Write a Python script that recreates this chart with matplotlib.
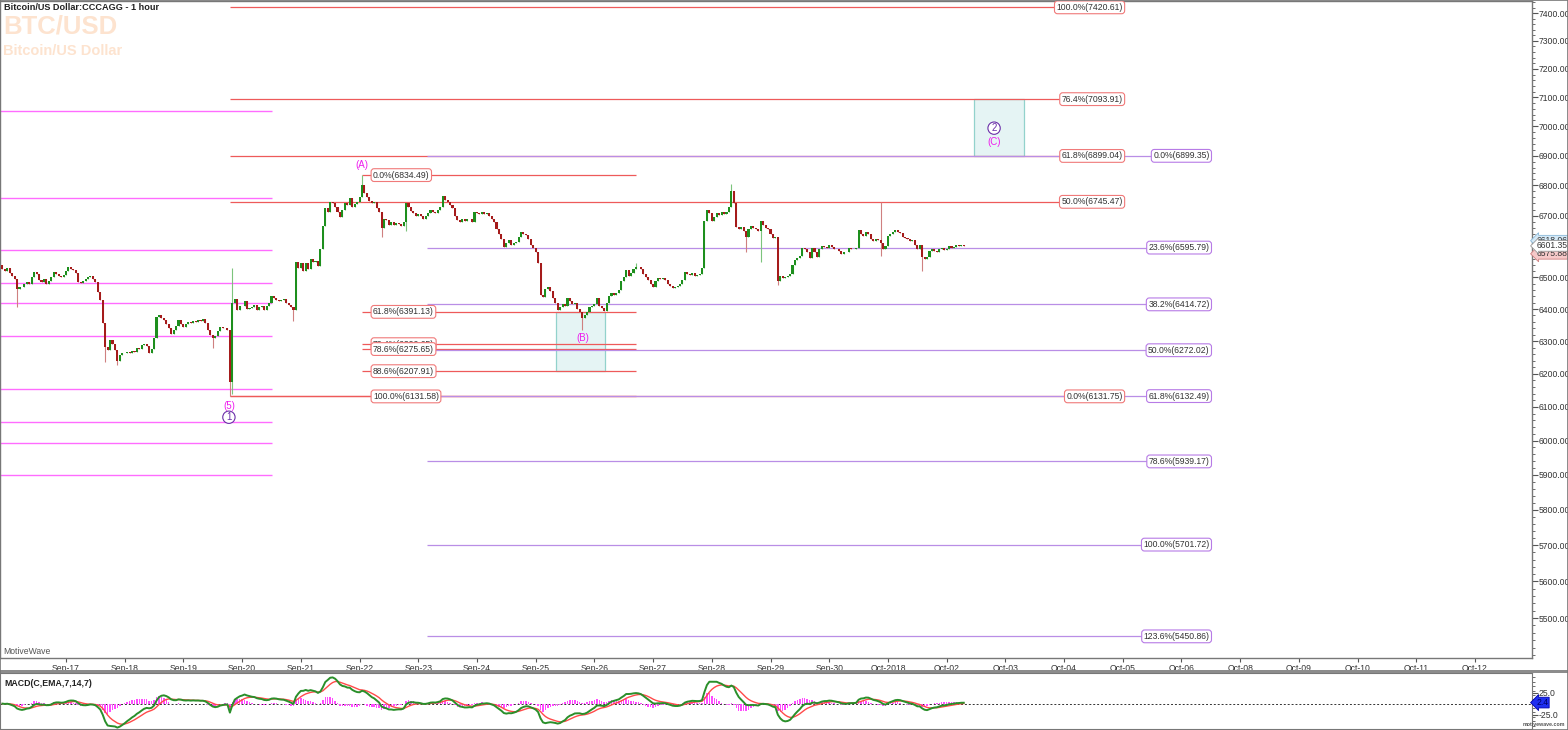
"""BTC/USD 1 hour chart with wave labels, fib levels and MACD (MotiveWave look)."""

import numpy as np
import matplotlib
matplotlib.use("Agg")
import matplotlib.pyplot as plt
from matplotlib.patches import Rectangle
from matplotlib.ticker import FixedLocator, NullFormatter, FuncFormatter

plt.rcParams["font.family"] = ["Liberation Sans", "DejaVu Sans"]

# hourly closes, first bar is Sep-15 22:00, one row per day
close_sep16 = [6528, 6522, 6530, 6515, 6505, 6495, 6462, 6470, 6468, 6480, 6486, 6478, 6500,
               6518, 6510, 6492, 6486, 6494, 6480, 6488, 6500, 6518, 6512, 6506, 6500, 6508]
close_sep17 = [6520, 6532, 6528, 6524, 6515, 6486, 6482, 6490, 6494, 6500, 6506, 6494,
               6485, 6454, 6430, 6355, 6283, 6274, 6304, 6290, 6274, 6240, 6258, 6262]
close_sep18 = [6262, 6268, 6264, 6270, 6266, 6280, 6276, 6288, 6292, 6284, 6262, 6275,
               6310, 6375, 6382, 6372, 6366, 6352, 6340, 6322, 6335, 6346, 6366, 6352]
close_sep19 = [6345, 6352, 6360, 6355, 6364, 6360, 6366, 6362, 6368, 6355, 6335, 6318,
               6310, 6316, 6330, 6345, 6340, 6342, 6336, 6175, 6420, 6432, 6398, 6410]
close_sep20 = [6410, 6426, 6400, 6404, 6406, 6412, 6398, 6405, 6410, 6398, 6408, 6420,
               6442, 6434, 6430, 6424, 6428, 6432, 6420, 6414, 6405, 6398, 6550, 6530]
close_sep21 = [6545, 6522, 6546, 6528, 6560, 6548, 6552, 6538, 6592, 6665, 6725, 6712,
               6745, 6740, 6728, 6712, 6695, 6718, 6740, 6735, 6758, 6728, 6738, 6745]
close_sep22 = [6760, 6800, 6775, 6762, 6748, 6740, 6745, 6725, 6712, 6660, 6690, 6685,
               6670, 6680, 6668, 6676, 6672, 6665, 6678, 6740, 6728, 6715, 6708, 6700]
close_sep23 = [6705, 6698, 6690, 6700, 6708, 6718, 6712, 6708, 6720, 6730, 6765, 6752,
               6745, 6735, 6725, 6700, 6685, 6680, 6690, 6682, 6688, 6690, 6680, 6712]
close_sep24 = [6710, 6705, 6712, 6706, 6710, 6700, 6688, 6680, 6655, 6640, 6625, 6598,
               6610, 6620, 6605, 6612, 6615, 6630, 6648, 6640, 6636, 6625, 6605, 6595]
close_sep25 = [6580, 6545, 6445, 6438, 6462, 6470, 6458, 6435, 6418, 6398, 6405, 6416,
               6410, 6436, 6425, 6415, 6420, 6400, 6392, 6372, 6380, 6390, 6405, 6410]
close_sep26 = [6415, 6436, 6410, 6402, 6395, 6420, 6440, 6452, 6445, 6452, 6460, 6488,
               6500, 6524, 6505, 6515, 6528, 6534, 6532, 6528, 6510, 6500, 6492, 6480]
close_sep27 = [6470, 6488, 6498, 6494, 6498, 6492, 6480, 6474, 6466, 6470, 6472, 6478,
               6492, 6518, 6510, 6508, 6514, 6506, 6508, 6512, 6530, 6682, 6720, 6710]
close_sep28 = [6682, 6695, 6710, 6702, 6712, 6705, 6712, 6730, 6780, 6740, 6662, 6655,
               6662, 6650, 6630, 6655, 6665, 6660, 6655, 6650, 6682, 6668, 6660, 6655]
close_sep29 = [6640, 6628, 6630, 6488, 6505, 6498, 6500, 6506, 6512, 6540, 6556, 6562,
               6570, 6595, 6590, 6580, 6562, 6596, 6580, 6566, 6590, 6600, 6598, 6595]
close_sep30 = [6605, 6598, 6592, 6590, 6586, 6575, 6580, 6582, 6595, 6592, 6590, 6596,
               6652, 6640, 6632, 6648, 6640, 6625, 6618, 6625, 6620, 6610, 6590, 6600]
close_oct01 = [6632, 6640, 6645, 6652, 6648, 6642, 6630, 6628, 6625, 6618, 6620, 6605,
               6590, 6605, 6565, 6560, 6566, 6585, 6590, 6586, 6580, 6590, 6595, 6588]
close_oct02 = [6590, 6600, 6596, 6598, 6603, 6600, 6604, 6601.35]
first_open = 6540

# wicks that reach past the bodies (bar index -> price)
wick_high = {94: 6530, 147: 6834.49, 259: 6545, 298: 6805, 359: 6745}
wick_low = {6: 6405, 42: 6236, 47: 6228, 86: 6278, 93: 6131.58, 94: 6140, 119: 6362,
            155: 6630, 165: 6650, 237: 6335, 304: 6580, 310: 6550, 317: 6475,
            359: 6570, 376: 6520}

# fib retracement / extension sets
fib_a_pct = ["100.0%", "76.4%", "61.8%", "50.0%", "0.0%"]
fib_a_val = [7420.61, 7093.91, 6899.04, 6745.47, 6131.75]
fib_b_pct = ["0.0%", "61.8%", "76.4%", "78.6%", "88.6%", "100.0%"]
fib_b_val = [6834.49, 6391.13, 6290.65, 6275.65, 6207.91, 6131.58]
fib_c_pct = ["0.0%", "23.6%", "38.2%", "50.0%", "61.8%", "78.6%", "100.0%", "123.6%"]
fib_c_val = [6899.35, 6595.79, 6414.72, 6272.02, 6132.49, 5939.17, 5701.72, 5450.86]
magenta_levels = [7053, 6758, 6588, 6481, 6418, 6316, 6153, 6054, 5994, 5899]

# target zones (price ranges)
zone_b = (6207.91, 6391.13)
zone_c = (6899.04, 7093.91)

tick_labels = ["Sep-17", "Sep-18", "Sep-19", "Sep-20", "Sep-21", "Sep-22", "Sep-23",
               "Sep-24", "Sep-25", "Sep-26", "Sep-27", "Sep-28", "Sep-29", "Sep-30",
               "Oct-2018", "Oct-02", "Oct-03", "Oct-04", "Oct-05", "Oct-06",
               "Oct-08", "Oct-09", "Oct-10", "Oct-11", "Oct-12"]

# right-edge price tags: high, low, last
price_tags = [6618.06, 6575.88, 6601.35]
macd_last = 2.4

W, H = 1568, 730
RED = "#ee5a5a"
PURPLE = "#b98ee6"
MAGENTA = "#ff6cff"
WAVE = "#ee1cee"


def ema(values, n):
    a = 2.0 / (n + 1)
    out = np.empty_like(values)
    out[0] = values[0]
    for i in range(1, len(values)):
        out[i] = a * values[i] + (1 - a) * out[i - 1]
    return out


def fib_set(ax, pcts, vals, x0, x1, lab_x, ha, line_col, edge_col):
    for p, v, s in zip(pcts, vals, x0):
        ax.hlines(v, s, x1, color=line_col, lw=0.9, zorder=2)
        ax.text(lab_x, v, f"{p}({v:.2f})", ha=ha, va="center", fontsize=6.2, color="#333333",
                zorder=6, bbox=dict(boxstyle="round,pad=0.22,rounding_size=0.35",
                                    fc="white", ec=edge_col, lw=0.8))


def main():
    days = [close_sep16, close_sep17, close_sep18, close_sep19, close_sep20, close_sep21,
            close_sep22, close_sep23, close_sep24, close_sep25, close_sep26, close_sep27,
            close_sep28, close_sep29, close_sep30, close_oct01, close_oct02]
    closes = np.array(sum(days, []), dtype=float)
    opens = np.concatenate([[first_open], closes[:-1]])
    highs = np.maximum(opens, closes)
    lows = np.minimum(opens, closes)
    for i, v in wick_high.items():
        highs[i] = max(highs[i], v)
    for i, v in wick_low.items():
        lows[i] = min(lows[i], v)
    x = np.arange(len(closes))

    fig = plt.figure(figsize=(W / 100, H / 100), dpi=100)
    ax = fig.add_axes([0, 1 - 658 / H, 1532 / W, 657 / H])
    mx = fig.add_axes([0, 1 - 729 / H, 1532 / W, 56 / H])

    xlim = (-0.98, 625.3)
    ax.set_xlim(*xlim)
    ax.set_yscale("log")
    ax.set_ylim(5393.3, 7443.7)

    # candles
    up = closes >= opens
    wick_cols = np.where(up, "#7cc47c", "#cf8080")
    ax.vlines(x, lows, highs, colors=wick_cols, lw=0.8, zorder=3)
    ax.bar(x[up], (closes - opens)[up], bottom=opens[up], width=0.85, color="#1d8f1d",
           lw=0, zorder=4)
    ax.bar(x[~up], (opens - closes)[~up], bottom=closes[~up], width=0.85, color="#a51b1b",
           lw=0, zorder=4)

    # fib lines
    ax.hlines(magenta_levels, -1, 110.2, color=MAGENTA, lw=1.0, zorder=2)
    fib_set(ax, fib_a_pct, fib_a_val, [93] * 5, 458.5, 458.0, "right", RED, "#f07a7a")
    fib_set(ax, fib_b_pct, fib_b_val, [147, 147, 147, 147, 147, 93], 259, 151.5, "left",
            RED, "#f07a7a")
    fib_set(ax, fib_c_pct, fib_c_val, [173.6] * 8, 494, 493.5, "right", PURPLE, "#b77be6")

    # target zones
    for (lo, hi), (a, b) in [(zone_b, (226.3, 246.4)), (zone_c, (397.2, 417.7))]:
        ax.add_patch(Rectangle((a, lo), b - a, hi - lo, fc="#e5f4f4", ec="#92d2cc",
                               lw=0.9, zorder=1))

    # wave labels
    def wave(txt, xy, dy, col, circ=False):
        kw = dict(textcoords="offset points", ha="center", va="center", fontsize=7,
                  color=col, zorder=7)
        if circ:
            kw["bbox"] = dict(boxstyle="circle,pad=0.12", fc="white", ec=col, lw=0.8)
        ax.annotate(txt, xy=xy, xytext=(0, dy), **kw)

    wave("(A)", (147, 6834.49), 7, WAVE)
    wave("(B)", (237.4, 6335), -6, WAVE)
    wave("(5)", (92.6, 6131.58), -7, WAVE)
    wave("1", (92.6, 6131.58), -15, "#6a2fa8", circ=True)
    wave("2", (405.4, zone_c[0]), 20, "#6a2fa8", circ=True)
    wave("(C)", (405.4, zone_c[0]), 10, WAVE)

    # axes styling
    ax.yaxis.tick_right()
    ax.yaxis.set_major_locator(FixedLocator(np.arange(5500, 7401, 100)))
    ax.yaxis.set_major_formatter(FuncFormatter(lambda v, p: f"{v:.2f}"))
    ax.yaxis.set_minor_locator(FixedLocator(np.arange(5400, 7441, 20)))
    ax.yaxis.set_minor_formatter(NullFormatter())
    ax.tick_params(axis="y", which="major", length=4, labelsize=6.2, pad=1,
                   colors="#555555", labelcolor="#333333")
    ax.tick_params(axis="y", which="minor", length=2, colors="#555555")
    tick_pos = 26 + 24 * np.arange(len(tick_labels))
    ax.set_xticks(tick_pos)
    ax.set_xticklabels(tick_labels)
    ax.tick_params(axis="x", length=3, pad=1.2, labelsize=6.2, colors="#555555",
                   labelcolor="#333333")
    for sp in ax.spines.values():
        sp.set_color("#777777")
        sp.set_linewidth(1.0)

    tag_style = {6618.06: ("#d4e9f7", "#8ab8d8"), 6575.88: ("#f6c9c9", "#d08080"),
                 6601.35: ("white", "#999999")}
    for v in price_tags:
        fc, ec = tag_style[v]
        ax.annotate(f"{v:.2f}", xy=(1, v), xycoords=ax.get_yaxis_transform(),
                    xytext=(3, 0), textcoords="offset points", va="center", fontsize=6.2,
                    color="#333333", annotation_clip=False, zorder=8,
                    bbox=dict(boxstyle="larrow,pad=0.1", fc=fc, ec=ec, lw=0.6))

    # MACD(7,14,7)
    macd = ema(closes, 7) - ema(closes, 14)
    signal = ema(macd, 7)
    hist = macd - signal
    mx.set_xlim(*xlim)
    mx.set_ylim(-58, 70)
    mx.bar(x, hist, width=0.6, color="#ff4cff", lw=0, zorder=2)
    mx.axhline(0, color="#333333", lw=0.7, ls=(0, (2, 2)), zorder=1)
    mx.plot(x, signal, color="#ff4a4a", lw=1.0, zorder=3)
    mx.plot(x, macd, color="#2a8f2a", lw=1.4, zorder=4)
    mx.set_xticks([])
    mx.yaxis.tick_right()
    mx.set_yticks([-25, 25])
    mx.set_yticklabels(["-25.0", "25.0"])
    mx.yaxis.set_minor_locator(FixedLocator(np.arange(-50, 70, 10)))
    mx.tick_params(axis="y", which="major", length=4, labelsize=6.2, pad=1,
                   colors="#555555", labelcolor="#333333")
    mx.tick_params(axis="y", which="minor", length=2, colors="#555555")
    for sp in mx.spines.values():
        sp.set_color("#777777")
    mx.annotate(f"{macd_last:.1f}", xy=(1, macd_last), xycoords=mx.get_yaxis_transform(),
                xytext=(3, 0), textcoords="offset points", va="center", fontsize=6.2,
                color="#000066", annotation_clip=False,
                bbox=dict(boxstyle="larrow,pad=0.1", fc="#1f2ff0", ec="#0000aa", lw=0.6))

    # separator and frame
    fig.add_artist(Rectangle((0, 1 - 673 / H), 1, 3 / H, transform=fig.transFigure,
                             fc="#8c8c8c", ec="none"))
    fig.add_artist(Rectangle((0, 0), 1, 1, transform=fig.transFigure, fill=False,
                             ec="#777777", lw=1.2))

    # texts
    fig.text(4 / W, 1 - 7 / H, "Bitcoin/US Dollar:CCCAGG - 1 hour", fontsize=6.6,
             fontweight="bold", color="#222222", va="center")
    fig.text(3 / W, 1 - 27 / H, "BTC/USD", fontsize=18.5, fontweight="bold",
             color="#fde3cf", va="center")
    fig.text(3 / W, 1 - 51 / H, "Bitcoin/US Dollar", fontsize=10.5, fontweight="bold",
             color="#fde3cf", va="center")
    fig.text(3 / W, 1 - 651 / H, "MotiveWave", fontsize=6.2, color="#555555", va="center")
    fig.text(4 / W, 1 - 684 / H, "MACD(C,EMA,7,14,7)", fontsize=6.3, fontweight="bold",
             color="#222222", va="center")
    fig.text(1565 / W, 1 - 725 / H, "motivewave.com", fontsize=3.8, fontweight="bold",
             color="#555555", ha="right", va="center")

    fig.savefig("out.png", dpi=100)
    plt.close(fig)


if __name__ == "__main__":
    main()
